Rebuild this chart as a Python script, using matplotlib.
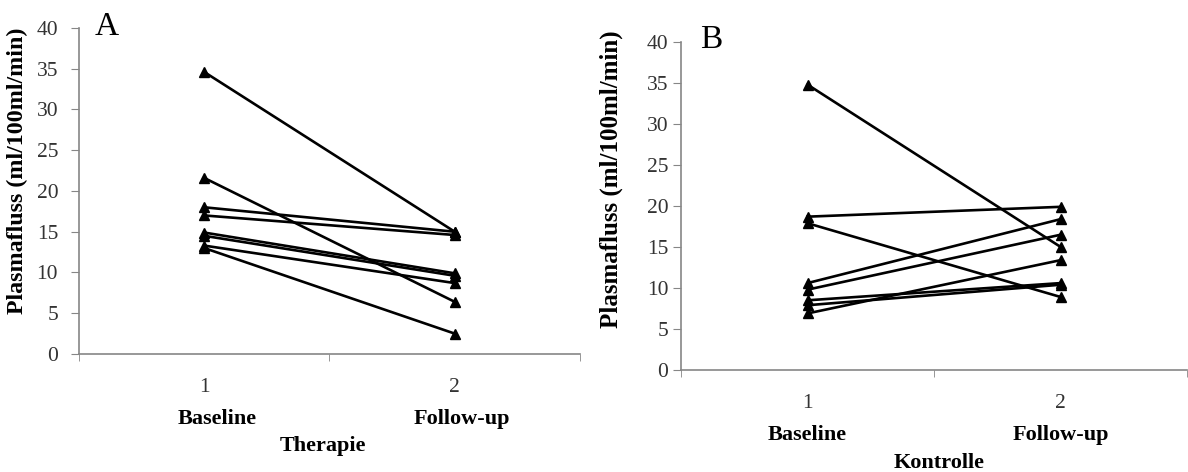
import numpy as np
import matplotlib.pyplot as plt

# Plasmafluss values (ml/100ml/min)
zeitpunkte = [1, 2]
therapie_baseline = [34.6, 21.6, 18.0, 17.0, 14.9, 14.5, 13.3, 13.0]
therapie_followup = [15.0, 6.4, 15.0, 14.6, 9.9, 9.6, 8.7, 2.5]
kontrolle_baseline = [34.8, 18.7, 17.9, 10.6, 9.8, 8.5, 7.9, 6.9]
kontrolle_followup = [15.0, 19.9, 8.9, 18.4, 16.5, 10.6, 10.4, 13.4]
yticks = [0, 5, 10, 15, 20, 25, 30, 35, 40]
ylabel = "Plasmafluss (ml/100ml/min)"

plt.rcParams['font.family'] = ['Liberation Serif', 'DejaVu Serif']
AXIS_GREY = '#868686'
TEXT_GREY = '#333333'


def panel(ax, base, follow, xlabel, ytick_pad, label_pos, label_size, name_off, xlabel_dy):
    for b, f in zip(base, follow):
        ax.plot(zeitpunkte, [b, f], color='black', lw=1.9,
                marker='^', markersize=7, markeredgecolor='black')
    ax.set_xlim(0.5, 2.5)
    ax.set_ylim(0, 40)
    ax.set_yticks(yticks)
    ax.set_xticks(zeitpunkte, ['1', '2'])
    ax.set_xticks([0.5, 1.5, 2.5], minor=True)
    ax.tick_params(axis='x', which='major', length=0, pad=17,
                   labelsize=15.5, labelcolor=TEXT_GREY)
    ax.tick_params(axis='x', which='minor', length=5, color=AXIS_GREY, direction='out')
    ax.tick_params(axis='y', length=6, color=AXIS_GREY, direction='out',
                   labelsize=15.5, labelcolor=TEXT_GREY, pad=ytick_pad)
    for s in ['top', 'right']:
        ax.spines[s].set_visible(False)
    for s in ['left', 'bottom']:
        ax.spines[s].set_color(AXIS_GREY)
        ax.spines[s].set_linewidth(1.2)
    ax.set_ylabel(ylabel, fontsize=label_size, fontweight='bold')
    ax.yaxis.set_label_coords(*label_pos)
    trans = ax.get_xaxis_transform()
    ax.text(1 + name_off[0], -0.198, 'Baseline', transform=trans, ha='center',
            va='center', fontsize=16, fontweight='bold')
    ax.text(2 + name_off[1], -0.198, 'Follow-up', transform=trans, ha='center',
            va='center', fontsize=16, fontweight='bold')
    ax.text(1.5 + name_off[2], -0.198 - xlabel_dy, xlabel, transform=trans, ha='center',
            va='center', fontsize=16, fontweight='bold')


fig = plt.figure(figsize=(11.88, 4.72), dpi=100)
ax1 = fig.add_axes([0.0665, 0.25, 0.4217, 0.6907])
ax2 = fig.add_axes([0.5732, 0.2161, 0.4262, 0.6949])

panel(ax1, therapie_baseline, therapie_followup, 'Therapie',
      ytick_pad=9, label_pos=(-0.102, 0.561), label_size=17.3,
      name_off=(0.05, 0.03, -0.025), xlabel_dy=0.085)
panel(ax2, kontrolle_baseline, kontrolle_followup, 'Kontrolle',
      ytick_pad=3, label_pos=(-0.114, 0.582), label_size=18,
      name_off=(0.0, 0.0, 0.02), xlabel_dy=0.085)

fig.text(0.080, 0.926, 'A', fontsize=24, va='baseline', ha='left')
fig.text(0.589, 0.898, 'B', fontsize=24, va='baseline', ha='left')

fig.savefig('out.png', dpi=100)
